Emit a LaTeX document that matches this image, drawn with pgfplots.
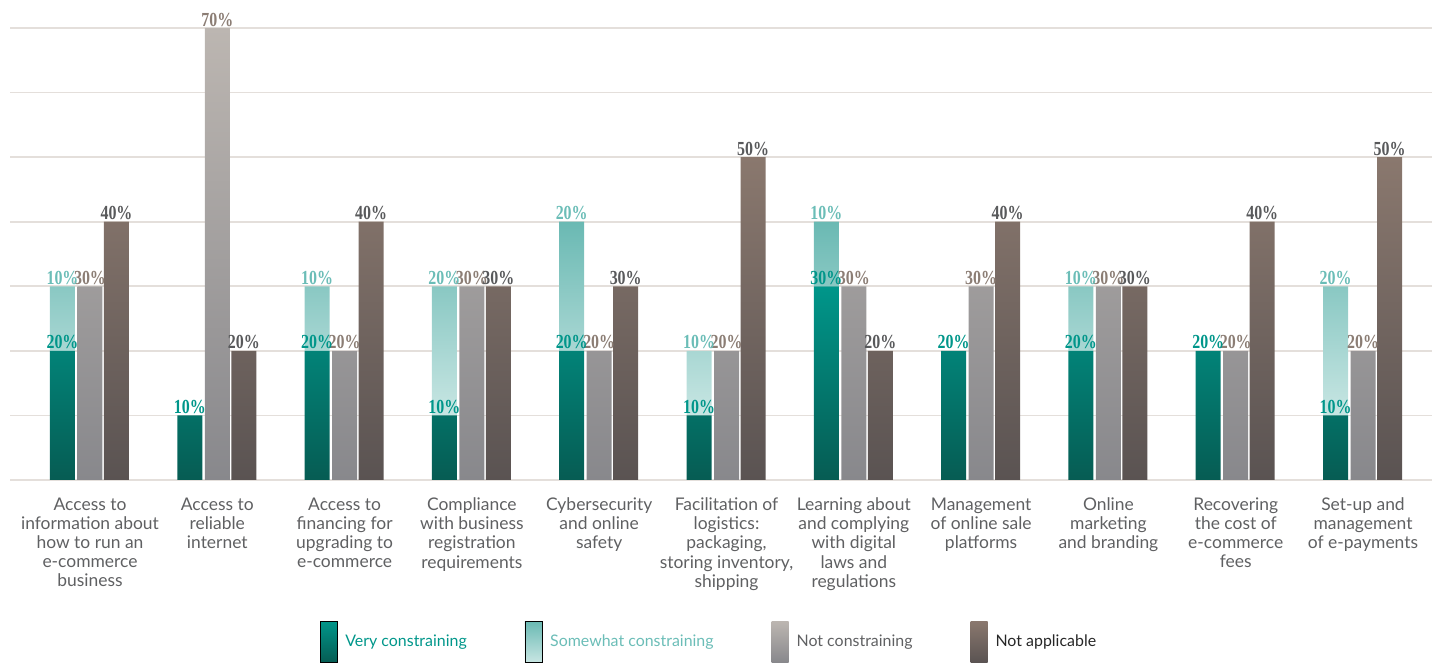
\documentclass[border=0pt]{standalone}
\usepackage{fontspec}
\setmainfont{Lato}
\newfontfamily\numfont{Liberation Serif}[FakeStretch=0.8]
\usepackage{pgfplots}
\pgfplotsset{compat=1.18}

\definecolor{vtop}{HTML}{00968A}
\definecolor{vmid}{HTML}{008A7E}
\definecolor{vbot}{HTML}{065C53}
\definecolor{stop}{HTML}{6AB9B3}
\definecolor{sbot}{HTML}{C8E6E3}
\definecolor{nctop}{HTML}{BCB6B1}
\definecolor{ncbot}{HTML}{88888C}
\definecolor{natop}{HTML}{8A786E}
\definecolor{nabot}{HTML}{5A5352}
\definecolor{vlab}{HTML}{00968A}
\definecolor{slab}{HTML}{6BBDB7}
\definecolor{nclab}{HTML}{8B7D74}
\definecolor{nalab}{HTML}{58595B}
\definecolor{gridc}{HTML}{E4DFDB}
\definecolor{txt}{HTML}{5F6062}

\pgfplotsset{
  base/.style={
    scale only axis, width=1422bp, height=452bp,
    at={(10bp,183bp)}, anchor=south west,
    xmin=-0.6284, xmax=10.542, ymin=0, ymax=70,
    clip=false,
    axis line style={draw=none}, major tick length=0pt,
    ytick={0,10,...,70}, yticklabels={},
    xtick={0,...,10},
    bar width=25bp,
    nodes near coords style={font=\numfont\bfseries\fontsize{20}{20}\selectfont,
      inner xsep=0bp, inner ysep=1.5bp},
  },
  leg/.style 2 args={legend image code/.code={
    \shade[top color=#1, bottom color=#2] (0bp,-20.5bp) rectangle (17bp,20.5bp);
    \path (23bp,0bp);}},
}

\begin{document}
\begin{tikzpicture}
\useasboundingbox (0,0) rectangle (1432bp,663bp);

% stacked bars: very + somewhat constraining
\begin{axis}[base,
  ybar stacked, bar shift=-27.5bp,
  ymajorgrids, major grid style={color=gridc, line width=1.6bp},
  xticklabels={
    {Access to\\information about\\how to run an\\e-commerce\\business},
    {Access to\\reliable\\internet},
    {Access to\\financing for\\upgrading to\\e-commerce},
    {Compliance\\with business\\registration\\requirements},
    {Cybersecurity\\and online\\safety},
    {Facilitation of\\logistics:\\packaging,\\storing inventory,\\shipping},
    {Learning about\\and complying\\with digital\\laws and\\regulations},
    {Management\\of online sale\\platforms},
    {Online\\marketing\\and branding},
    {Recovering\\the cost of\\e-commerce\\fees},
    {Set-up and\\management\\of e-payments}},
  xticklabel style={align=center, text=txt, font=\fontsize{17.5}{19.3}\selectfont, yshift=-14bp},
]
\addplot[draw=none, top color=vtop, middle color=vmid, bottom color=vbot] coordinates {
  (0,20) (1,10) (2,20) (3,10) (4,20) (5,10) (6,30) (7,20) (8,20) (9,20) (10,10)
};
\addplot[draw=none, top color=stop, bottom color=sbot] coordinates {
  (0,10) (1,0) (2,10) (3,20) (4,20) (5,10) (6,10) (7,0) (8,10) (9,0) (10,20)
};
\end{axis}

\begin{axis}[base,
  ybar, xticklabels={},
  point meta=explicit symbolic,
  nodes near coords={\pgfplotspointmeta},
  legend columns=4,
  legend style={draw=none, fill=none, at={(0.4916,-0.358)}, anchor=center,
    font=\fontsize{16}{18}\selectfont,
    /tikz/every even column/.append style={column sep=56bp}},
]
\addlegendimage{leg={vtop}{vbot}}
\addlegendimage{leg={stop}{sbot}}
% Not constraining
\addplot[draw=none, bar shift=0bp, top color=nctop, bottom color=ncbot,
  nodes near coords style={text=nclab}, leg={nctop}{ncbot}] coordinates {
  (0,30) [30\%] (1,70) [70\%] (2,20) [20\%] (3,30) [30\%] (4,20) [20\%] (5,20) [20\%]
  (6,30) [30\%] (7,30) [30\%] (8,30) [30\%] (9,20) [20\%] (10,20) [20\%]
};
% Not applicable
\addplot[draw=none, bar shift=26.5bp, top color=natop, bottom color=nabot,
  nodes near coords style={text=nalab}, leg={natop}{nabot}] coordinates {
  (0,40) [40\%] (1,20) [20\%] (2,40) [40\%] (3,30) [30\%] (4,30) [30\%] (5,50) [50\%]
  (6,20) [20\%] (7,40) [40\%] (8,30) [30\%] (9,40) [40\%] (10,50) [50\%]
};
\legend{\textcolor{vlab}{Very constraining}, \textcolor{slab}{Somewhat constraining},
  \textcolor{txt}{Not constraining}, \textcolor{black!85}{Not applicable}}
% labels of the stacked bars: total (somewhat) and very constraining
\addplot[draw=none, fill=none, bar shift=-27.5bp,
  nodes near coords style={text=slab}] coordinates {
  (0,30) [10\%] (1,10) [{}] (2,30) [10\%] (3,30) [20\%] (4,40) [20\%] (5,20) [10\%]
  (6,40) [10\%] (7,20) [{}] (8,30) [10\%] (9,20) [{}] (10,30) [20\%]
};
\addplot[draw=none, fill=none, bar shift=-27.5bp,
  nodes near coords style={text=vlab}] coordinates {
  (0,20) [20\%] (1,10) [10\%] (2,20) [20\%] (3,10) [10\%] (4,20) [20\%] (5,10) [10\%]
  (6,30) [30\%] (7,20) [20\%] (8,20) [20\%] (9,20) [20\%] (10,10) [10\%]
};
\end{axis}
\end{tikzpicture}
\end{document}
